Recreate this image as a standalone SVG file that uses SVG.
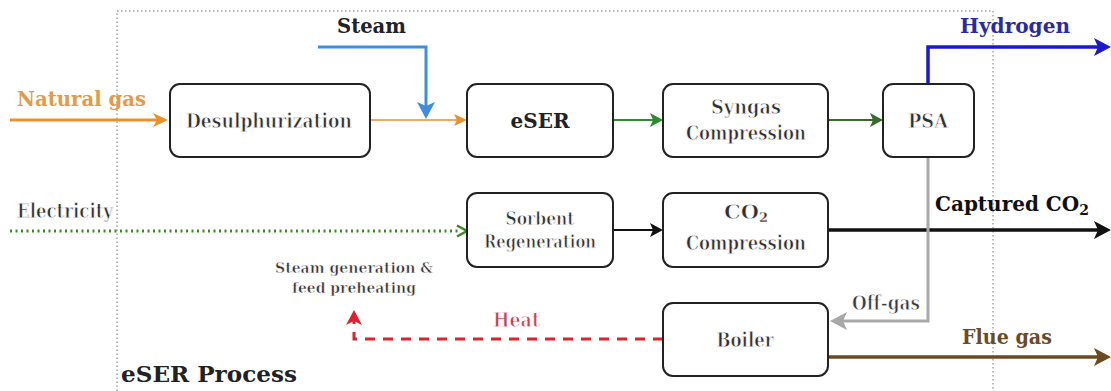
<svg xmlns="http://www.w3.org/2000/svg" width="1111" height="391" viewBox="0 0 1111 391">
  <style>
    text { font-family: "DejaVu Serif", "Liberation Serif", serif; font-weight: bold; font-size: 20px; fill: #222; }
    /* regular-weight labels: the bold face drawn slimmer with a white edge */
    .r { font-size: 21px; fill: #303030; stroke: #fff; stroke-width: 0.8px; stroke-linejoin: round; }
    .c { text-anchor: middle; }
    .node rect { fill: #fff; stroke: #222; stroke-width: 2; }
    .flow { fill: none; }
  </style>
  <defs>
    <marker id="ah-orange" markerUnits="userSpaceOnUse" markerWidth="16" markerHeight="14" refX="4" refY="7" orient="auto">
      <path d="M0,0 L15,7 L0,14 L4,7 z" fill="#E8912D"/>
    </marker>
    <marker id="ah-orange-s" markerUnits="userSpaceOnUse" markerWidth="14" markerHeight="12" refX="3" refY="6" orient="auto">
      <path d="M0,0 L13,6 L0,12 L3,6 z" fill="#E8912D"/>
    </marker>
    <marker id="ah-blue" markerUnits="userSpaceOnUse" markerWidth="18" markerHeight="18" refX="4" refY="9" orient="auto">
      <path d="M0,0 L17,9 L0,18 L4,9 z" fill="#3B8FDD"/>
    </marker>
    <marker id="ah-navy" markerUnits="userSpaceOnUse" markerWidth="18" markerHeight="18" refX="4" refY="9" orient="auto">
      <path d="M0,0 L17,9 L0,18 L4,9 z" fill="#1A1ACC"/>
    </marker>
    <marker id="ah-green" markerUnits="userSpaceOnUse" markerWidth="14" markerHeight="14" refX="3" refY="7" orient="auto">
      <path d="M0,0 L13,7 L0,14 L3,7 z" fill="#2E8B2E"/>
    </marker>
    <marker id="ah-dkgreen" markerUnits="userSpaceOnUse" markerWidth="14" markerHeight="14" refX="3" refY="7" orient="auto">
      <path d="M0,0 L13,7 L0,14 L3,7 z" fill="#3A6B2A"/>
    </marker>
    <marker id="ah-open-green" markerUnits="userSpaceOnUse" markerWidth="14" markerHeight="14" refX="2" refY="7" orient="auto">
      <path d="M1,1.5 L11,7 L1,12.5" fill="none" stroke="#3A8A22" stroke-width="2.5"/>
    </marker>
    <marker id="ah-black" markerUnits="userSpaceOnUse" markerWidth="14" markerHeight="14" refX="3" refY="7" orient="auto">
      <path d="M0,0 L13,7 L0,14 L3,7 z" fill="#111"/>
    </marker>
    <marker id="ah-black-l" markerUnits="userSpaceOnUse" markerWidth="18" markerHeight="18" refX="4" refY="9" orient="auto">
      <path d="M0,0 L17,9 L0,18 L4,9 z" fill="#111"/>
    </marker>
    <marker id="ah-gray" markerUnits="userSpaceOnUse" markerWidth="18" markerHeight="18" refX="4" refY="9" orient="auto">
      <path d="M0,0 L17,9 L0,18 L4,9 z" fill="#A8A8A8"/>
    </marker>
    <marker id="ah-brown" markerUnits="userSpaceOnUse" markerWidth="18" markerHeight="18" refX="4" refY="9" orient="auto">
      <path d="M0,0 L17,9 L0,18 L4,9 z" fill="#6B4A1E"/>
    </marker>
    <marker id="ah-red" markerUnits="userSpaceOnUse" markerWidth="16" markerHeight="16" refX="4" refY="8" orient="auto">
      <path d="M0,0 L15,8 L0,16 L4,8 z" fill="#E0202A"/>
    </marker>
  </defs>

  <!-- process boundary -->
  <g id="boundary">
    <rect x="117" y="11" width="876" height="392" fill="none" stroke="#777" stroke-width="1" stroke-dasharray="1.5 2.5"/>
    <text x="121" y="382" textLength="176" lengthAdjust="spacingAndGlyphs" style="font-size:22px">eSER Process</text>
  </g>

  <!-- connectors -->
  <g id="connectors" class="flow">
    <path d="M10,120 H157" stroke="#E8912D" stroke-width="3" marker-end="url(#ah-orange)"/>
    <path d="M370,120 H457" stroke="#E8912D" stroke-width="1.5" marker-end="url(#ah-orange-s)"/>
    <path d="M318,47 H426 V106" stroke="#3B8FDD" stroke-width="3" marker-end="url(#ah-blue)"/>
    <path d="M613,120 H653" stroke="#2E8B2E" stroke-width="2" marker-end="url(#ah-green)"/>
    <path d="M828,120 H873" stroke="#3A6B2A" stroke-width="2" marker-end="url(#ah-dkgreen)"/>
    <path d="M928,84 V47 H1098" stroke="#1A1ACC" stroke-width="3.5" marker-end="url(#ah-navy)"/>
    <path d="M10,231 H458" stroke="#3A8A22" stroke-width="3" stroke-dasharray="2 3.5" marker-end="url(#ah-open-green)"/>
    <path d="M613,230 H653" stroke="#111" stroke-width="2" marker-end="url(#ah-black)"/>
    <path d="M828,230 H1098" stroke="#111" stroke-width="3.5" marker-end="url(#ah-black-l)"/>
    <path d="M928,157 V321 H843" stroke="#A8A8A8" stroke-width="3" marker-end="url(#ah-gray)"/>
    <path d="M828,357 H1098" stroke="#6B4A1E" stroke-width="3.5" marker-end="url(#ah-brown)"/>
    <path d="M663,339 H354 V321" stroke="#E0202A" stroke-width="3" stroke-dasharray="10 8" marker-end="url(#ah-red)"/>
  </g>

  <!-- stream labels -->
  <g id="labels">
    <text x="17" y="106" textLength="129" lengthAdjust="spacingAndGlyphs" style="fill:#E39B45">Natural gas</text>
    <text x="337" y="33" textLength="69" lengthAdjust="spacingAndGlyphs">Steam</text>
    <text x="960" y="33" textLength="110" lengthAdjust="spacingAndGlyphs" style="fill:#2A2AA6">Hydrogen</text>
    <text class="r" x="17" y="218" textLength="96" lengthAdjust="spacingAndGlyphs" style="font-size:20px">Electricity</text>
    <text x="935" y="211" style="fill:#111">Captured CO<tspan dy="4" style="font-size:14px">2</tspan></text>
    <text class="r" x="852" y="310" textLength="68" lengthAdjust="spacingAndGlyphs" style="font-size:20px;fill:#3a3a3a">Off-gas</text>
    <text x="962" y="344" textLength="90" lengthAdjust="spacingAndGlyphs" style="fill:#6B4A24">Flue gas</text>
    <text class="r" x="493" y="327" textLength="47" lengthAdjust="spacingAndGlyphs" style="font-size:20px;fill:#C8404F">Heat</text>
    <text class="r c" x="354" y="273" textLength="158" lengthAdjust="spacingAndGlyphs" style="font-size:15px;stroke-width:0.55px">Steam generation &amp;</text>
    <text class="r c" x="354" y="293" textLength="124" lengthAdjust="spacingAndGlyphs" style="font-size:15px;stroke-width:0.55px">feed preheating</text>
  </g>

  <!-- process units -->
  <g id="desulphurization" class="node">
    <rect x="170" y="84" width="200" height="73" rx="10"/>
    <text class="r c" x="269" y="128" textLength="166" lengthAdjust="spacingAndGlyphs">Desulphurization</text>
  </g>
  <g id="eser" class="node">
    <rect x="467" y="84" width="146" height="73" rx="10"/>
    <text class="c" x="540" y="128" textLength="59" lengthAdjust="spacingAndGlyphs">eSER</text>
  </g>
  <g id="syngas-compression" class="node">
    <rect x="663" y="84" width="165" height="73" rx="10"/>
    <text class="r c" x="746" y="114" textLength="70" lengthAdjust="spacingAndGlyphs">Syngas</text>
    <text class="r c" x="746" y="140" textLength="120" lengthAdjust="spacingAndGlyphs">Compression</text>
  </g>
  <g id="psa" class="node">
    <rect x="883" y="84" width="91" height="73" rx="10"/>
    <text class="r c" x="928" y="128" textLength="40" lengthAdjust="spacingAndGlyphs">PSA</text>
  </g>
  <g id="sorbent-regeneration" class="node">
    <rect x="467" y="193" width="146" height="74" rx="10"/>
    <text class="r c" x="540" y="225" textLength="69" lengthAdjust="spacingAndGlyphs" style="font-size:19px">Sorbent</text>
    <text class="r c" x="540" y="248" textLength="112" lengthAdjust="spacingAndGlyphs" style="font-size:19px">Regeneration</text>
  </g>
  <g id="co2-compression" class="node">
    <rect x="663" y="193" width="165" height="74" rx="10"/>
    <text class="r c" x="746" y="219">CO<tspan dy="3" style="font-size:13px;stroke-width:0.3px">2</tspan></text>
    <text class="r c" x="746" y="250" textLength="120" lengthAdjust="spacingAndGlyphs">Compression</text>
  </g>
  <g id="boiler" class="node">
    <rect x="663" y="303" width="165" height="73" rx="10"/>
    <text class="r c" x="745" y="347" textLength="57" lengthAdjust="spacingAndGlyphs">Boiler</text>
  </g>
</svg>
